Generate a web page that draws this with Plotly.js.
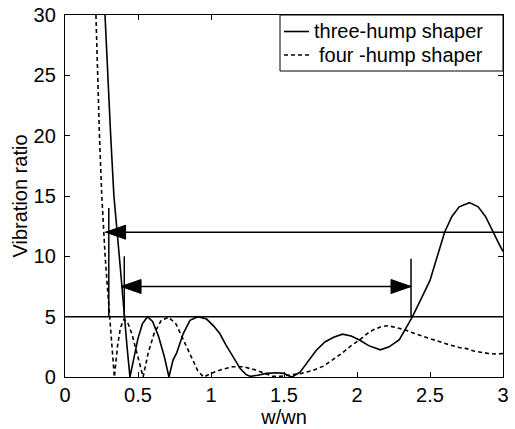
<!DOCTYPE html>
<html>
<head>
<meta charset="utf-8">
<script src="https://cdn.plot.ly/plotly-3.0.1.min.js"></script>
<style>
html,body{margin:0;padding:0;background:#fff;}
#chart{width:515px;height:429px;}
</style>
</head>
<body>
<div id="chart"></div>
<script>
// ---- data ----
const threeX = [0.274,0.292,0.313,0.335,0.36,0.372,0.39,0.405,0.425,0.445,
  0.47,0.50,0.53,0.565,0.60,0.64,0.68,0.712,
  0.74,0.765,0.81,0.856,0.91,0.97,1.02,1.06,1.10,1.15,1.20,1.24,1.27,
  1.32,1.38,1.45,1.50,1.53,1.555,
  1.61,1.66,1.72,1.78,1.84,1.90,1.96,2.02,2.08,2.16,2.22,2.29,2.33,2.38,2.44,2.50,2.55,2.60,2.65,2.70,2.77,2.83,2.88,2.93,2.97,3.0];
const threeY = [30,25,20,15,12,10,7.5,5,2.5,0,
  1.6,3.2,4.4,5.0,4.6,3.4,1.7,0,
  1.4,2.0,3.6,4.7,5.0,4.8,4.2,3.6,2.7,1.7,0.7,0.2,0.05,
  0.15,0.3,0.35,0.3,0.1,0,
  0.4,1.2,2.2,2.9,3.3,3.55,3.4,3.05,2.6,2.25,2.5,3.1,4.0,5.0,6.5,8.0,10.0,12.0,13.3,14.1,14.45,14.1,13.3,12.0,11.1,10.4];

const fourX = [0.212,0.222,0.236,0.252,0.265,0.275,0.29,0.307,0.322,0.338,
  0.36,0.38,0.405,0.43,0.46,0.50,0.535,
  0.57,0.61,0.66,0.71,0.76,0.81,0.86,0.91,0.95,
  1.0,1.08,1.15,1.22,1.30,1.38,1.42,1.47,1.55,1.62,1.70,1.77,1.83,1.90,1.96,2.02,2.07,2.11,2.16,2.21,2.27,2.34,2.42,2.52,2.61,2.70,2.75,2.80,2.90,2.96,3.0];
const fourY = [30,25,20,15,12,10,7.5,5,2.5,0,
  2.6,4.1,4.8,4.5,3.5,1.7,0,
  2.0,3.6,4.7,4.95,4.4,3.1,1.7,0.5,0,
  0.3,0.65,0.85,0.85,0.6,0.25,0.05,0.05,0.15,0.3,0.55,0.9,1.4,2.0,2.6,3.1,3.6,3.9,4.15,4.25,4.1,3.85,3.5,3.1,2.75,2.45,2.35,2.15,1.95,1.9,1.95];

const seriesNames = ['three-hump shaper', 'four -hump shaper'];
const xTicks = [0, 0.5, 1, 1.5, 2, 2.5, 3];
const xTickText = ['0', '0.5', '1', '1.5', '2', '2.5', '3'];
const yTicks = [0, 5, 10, 15, 20, 25, 30];
const yTickText = ['0', '5', '10', '15', '20', '25', '30'];

const refLevel = [5];                 // horizontal reference line
const arrowY = [12, 7.5];             // arrow heights
const arrowStartX = [0.278, 0.384];   // left tips
const arrowEndX = [3, 2.37];          // right ends
const arrowBothEnds = [false, true];
const markerLineX = [0.30, 0.406, 2.37];
const markerLineTop = [14, 10, 9.8];
const markerLineBottom = [5, 5, 5];

// ---- build ----
const FONT = 'Liberation Sans, Arial, Helvetica, sans-serif';
const DASH = '4px,3px';
const traces = [
  {x: threeX, y: threeY, name: seriesNames[0], type: 'scatter', mode: 'lines',
   line: {color: '#000', width: 1.6}, showlegend: false},
  {x: fourX, y: fourY, name: seriesNames[1], type: 'scatter', mode: 'lines',
   line: {color: '#000', width: 1.6, dash: DASH}, showlegend: false}
];

const shapes = [];
refLevel.forEach(v => shapes.push({type: 'line', xref: 'paper', yref: 'y', x0: 0, x1: 1, y0: v, y1: v,
  line: {color: '#000', width: 1.5}}));
markerLineX.forEach((x, i) => shapes.push({type: 'line', xref: 'x', yref: 'y', x0: x, x1: x,
  y0: markerLineBottom[i], y1: markerLineTop[i], line: {color: '#000', width: 1.5}}));
const HL = 20, HH = 7;
arrowY.forEach((y, i) => {
  shapes.push({type: 'line', xref: 'x', yref: 'y', x0: arrowStartX[i], x1: arrowEndX[i], y0: y, y1: y,
    line: {color: '#000', width: 1.5}});
  shapes.push({type: 'path', xref: 'x', yref: 'y', xsizemode: 'pixel', ysizemode: 'pixel',
    xanchor: arrowStartX[i], yanchor: y,
    path: `M0,0 L${HL},${HH} L${HL},${-HH} Z`, fillcolor: '#000', line: {color: '#000', width: 1}});
  if (arrowBothEnds[i]) {
    shapes.push({type: 'path', xref: 'x', yref: 'y', xsizemode: 'pixel', ysizemode: 'pixel',
      xanchor: arrowEndX[i], yanchor: y,
      path: `M0,0 L${-HL},${HH} L${-HL},${-HH} Z`, fillcolor: '#000', line: {color: '#000', width: 1}});
  }
});

// ---- legend box (MATLAB style), positioned in paper coordinates ----
const PW = 438, PH = 362;                  // plot area size in px
const px = v => v / PW, py = v => v / PH;  // px offsets -> paper fractions
const legLeft = 1 - px(223), legBottom = 1 - py(56);
shapes.push({type: 'rect', xref: 'paper', yref: 'paper', x0: legLeft, x1: 1, y0: legBottom, y1: 1,
  fillcolor: '#fff', line: {color: '#000', width: 1}});
const rowY = [1 - py(16.5), 1 - py(40)];
const rowDash = ['solid', DASH];
const annotations = [];
seriesNames.forEach((name, i) => {
  shapes.push({type: 'line', xref: 'paper', yref: 'paper', x0: legLeft + px(4), x1: legLeft + px(29),
    y0: rowY[i], y1: rowY[i], line: {color: '#000', width: 1.6, dash: rowDash[i]}});
  annotations.push({xref: 'paper', yref: 'paper', x: 1 - px(19), y: rowY[i],
    xanchor: 'right', yanchor: 'middle', showarrow: false, text: name, borderpad: 0,
    font: {family: FONT, size: 20, color: '#000'}});
});

const axisCommon = {
  showline: true, linecolor: '#000', linewidth: 1.2, mirror: 'ticks',
  ticks: 'inside', ticklen: 5, tickcolor: '#000', tickwidth: 1,
  showgrid: false, zeroline: false, tickfont: {family: FONT, size: 20, color: '#000'}
};

const layout = {
  width: 515, height: 429,
  margin: {l: 65, r: 12, t: 15, b: 52},
  paper_bgcolor: '#fff', plot_bgcolor: '#fff',
  font: {family: FONT, size: 20, color: '#000'},
  xaxis: Object.assign({}, axisCommon, {range: [0, 3], tickvals: xTicks, ticktext: xTickText,
    title: {text: 'w/wn', font: {family: FONT, size: 20, color: '#000'}, standoff: 2}}),
  yaxis: Object.assign({}, axisCommon, {range: [0, 30], tickvals: yTicks, ticktext: yTickText,
    ticklabelstandoff: 4,
    title: {text: 'Vibration ratio', font: {family: FONT, size: 20, color: '#000'}, standoff: 0}}),
  showlegend: false,
  shapes: shapes,
  annotations: annotations
};

Plotly.newPlot('chart', traces, layout, {displayModeBar: false, staticPlot: true});
</script>
</body>
</html>
